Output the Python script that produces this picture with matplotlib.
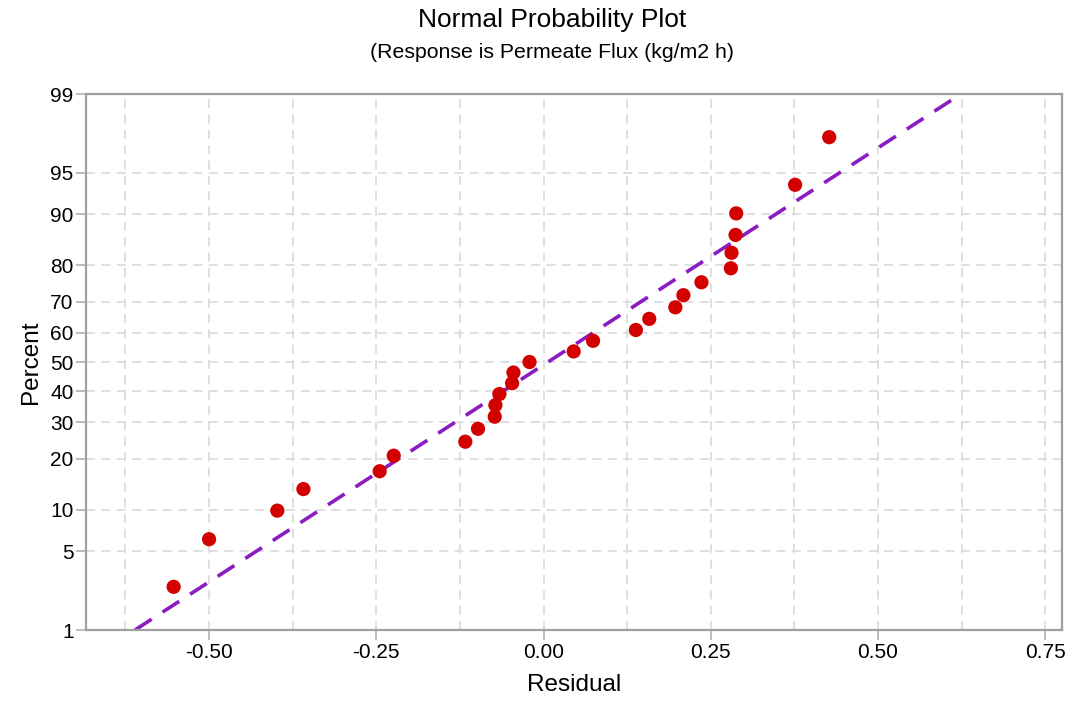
import numpy as np
import matplotlib
matplotlib.use("Agg")
import matplotlib.pyplot as plt
from matplotlib.ticker import FixedLocator, MultipleLocator, FuncFormatter
from statistics import NormalDist

# Residuals of the model, sorted, and their plotted cumulative percents
residuals = [-0.553, -0.500, -0.398, -0.359, -0.245, -0.224, -0.117, -0.098,
             -0.073, -0.072, -0.066, -0.047, -0.045, -0.021, 0.045, 0.074,
             0.138, 0.158, 0.197, 0.209, 0.236, 0.280, 0.281, 0.287, 0.288,
             0.376, 0.427]
percents = [2.55, 6.20, 9.85, 13.50, 17.15, 20.80, 24.45, 28.10, 31.75,
            35.40, 39.05, 42.70, 46.35, 50.00, 53.65, 57.30, 60.95, 64.60,
            68.25, 71.90, 75.55, 79.20, 82.85, 86.50, 90.15, 93.80, 97.45]

y_ticks = [1, 5, 10, 20, 30, 40, 50, 60, 70, 80, 90, 95, 99]
x_ticks = [-0.50, -0.25, 0.00, 0.25, 0.50, 0.75]

FONT = ["Liberation Sans", "DejaVu Sans"]
plt.rcParams["font.family"] = FONT

nd = NormalDist()
_ppf = np.vectorize(lambda v: nd.inv_cdf(v / 100.0), otypes=[float])
_cdf = np.vectorize(lambda v: nd.cdf(v) * 100.0, otypes=[float])


def prob_forward(p):
    p = np.clip(np.asarray(p, dtype=float), 1e-9, 100 - 1e-9)
    return _ppf(p)


def prob_inverse(z):
    return _cdf(np.asarray(z, dtype=float))


fig = plt.figure(figsize=(10.84, 7.03), dpi=100)
W, H = 1084, 703
left, right, top, bottom = 86, 1062, 94, 630
ax = fig.add_axes([left / W, 1 - bottom / H, (right - left) / W, (bottom - top) / H])

ax.set_yscale("function", functions=(prob_forward, prob_inverse))
ax.set_ylim(1, 99)
ax.set_xlim(-0.684, 0.775)

# Normal fit line from the residuals' mean and standard deviation
mu = np.mean(residuals)
sd = np.std(residuals, ddof=1)
p_line = np.linspace(1, 99, 400)
x_line = mu + sd * prob_forward(p_line)
ax.plot(x_line, p_line, color="#8A1CC2", lw=2.6, dashes=(5.5, 3.6), zorder=2,
        solid_capstyle="butt", dash_capstyle="butt")

ax.scatter(residuals, percents, s=105, color="#D30000", edgecolors="none",
           zorder=3, clip_on=False)

# Ticks and grid
ax.yaxis.set_major_locator(FixedLocator(y_ticks))
ax.yaxis.set_minor_locator(FixedLocator([]))
ax.yaxis.set_major_formatter(FuncFormatter(lambda v, _: f"{v:g}"))
ax.xaxis.set_major_locator(FixedLocator(x_ticks))
ax.xaxis.set_minor_locator(MultipleLocator(0.125))
ax.xaxis.set_major_formatter(FuncFormatter(lambda v, _: f"{v:.2f}"))

grid_kw = dict(color="#DCDCDC", lw=1.3, dashes=(5, 3.5))
ax.grid(True, which="major", axis="both", **grid_kw)
ax.grid(True, which="minor", axis="x", **grid_kw)
ax.set_axisbelow(True)

for s in ax.spines.values():
    s.set_color("#A0A0A0")
    s.set_linewidth(1.6)

ax.tick_params(axis="both", which="major", direction="out", length=7,
               width=1.2, color="#B0B0B0", labelsize=15, labelcolor="black",
               pad=2)
ax.tick_params(axis="x", which="minor", length=0)

ax.set_xlabel("Residual", fontsize=17.5, labelpad=9)
ax.set_ylabel("Percent", fontsize=17.5, labelpad=6)

fig.text(0.509, 1 - 20 / H, "Normal Probability Plot", ha="center",
         va="center", fontsize=19)
fig.text(0.509, 1 - 52 / H, "(Response is Permeate Flux (kg/m2 h)",
         ha="center", va="center", fontsize=15.3)

fig.savefig("out.png", dpi=100)
